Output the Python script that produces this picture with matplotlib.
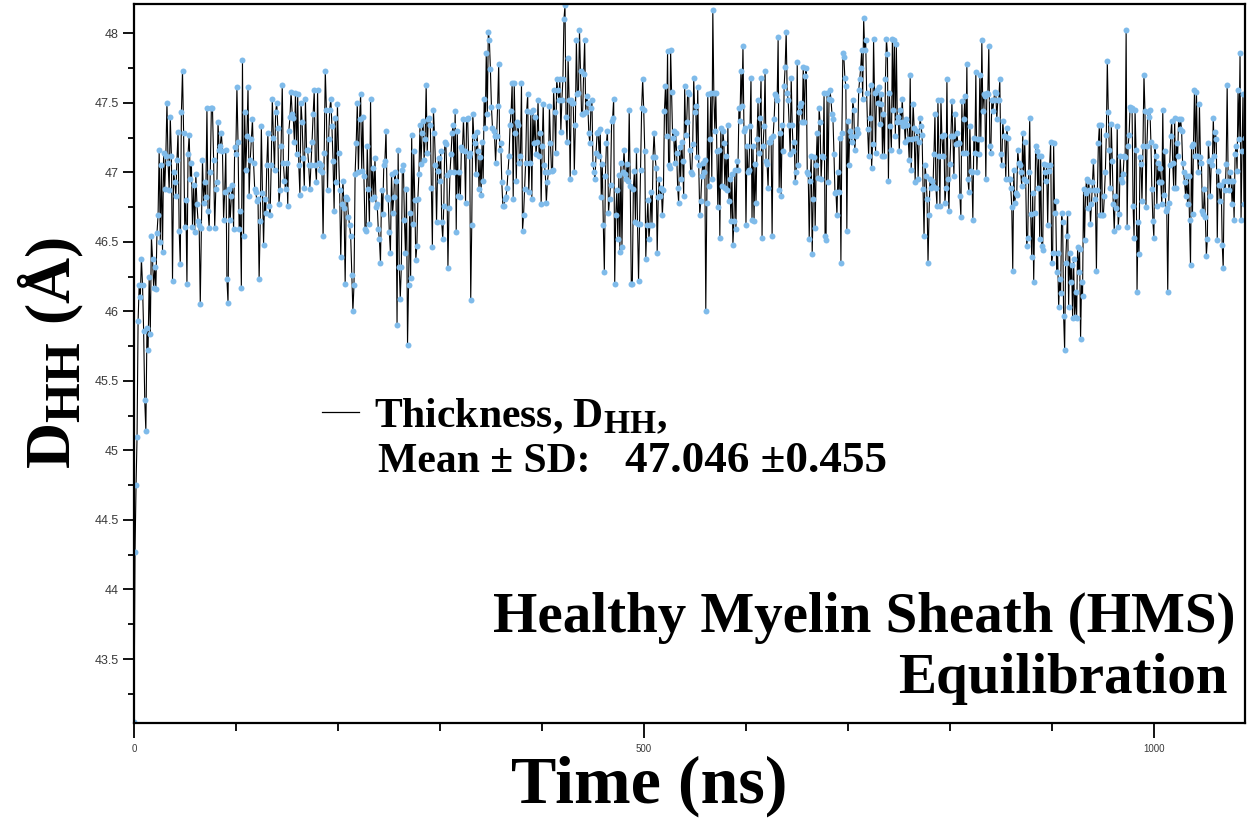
import numpy as np
import matplotlib.pyplot as plt
import matplotlib._mathtext as mathtext_internals
from matplotlib.lines import Line2D
from matplotlib.ticker import MultipleLocator, FuncFormatter

plt.rcParams['mathtext.fontset'] = 'custom'
plt.rcParams['mathtext.rm'] = 'Liberation Serif:bold'
plt.rcParams['mathtext.bf'] = 'Liberation Serif:bold'
# the subscripts in the original are a bit larger than mathtext's default
mathtext_internals.SHRINK_FACTOR = 0.8

# membrane thickness D_HH (Angstrom) read off the trajectory, block by block
# each block: first ns, last ns, values in between (about 1 ns apart)
d_0_3 = [43.05, 44.27, 44.75, 45.10]

d_4_127 = [45.93, 46.19, 46.10, 46.38, 46.19, 45.86, 45.36, 45.14, 45.88, 45.72, 46.25, 45.84, 46.54, 46.38,
           46.17, 46.32, 46.16, 46.56, 46.69, 47.16, 46.50, 47.05, 46.43, 47.14, 46.88, 47.12, 47.50, 47.07,
           46.87, 47.40, 47.12, 46.22, 47.00, 46.93, 46.83, 47.09, 47.29, 46.58, 46.34, 47.43, 47.73, 47.28,
           46.61, 46.80, 46.20, 47.13, 47.27, 46.95, 47.07, 46.61, 46.91, 46.57, 46.99, 46.77, 46.65, 46.62,
           46.05, 46.60, 47.09, 46.78, 46.93, 46.82, 47.46, 46.72, 46.60, 47.00, 47.46, 47.46, 47.09, 46.60,
           46.88, 46.93, 47.36, 47.16, 47.19, 47.28, 47.15, 46.66, 46.86, 47.16, 46.23, 46.06, 46.88, 46.66,
           46.83, 46.91, 46.59, 47.18, 47.13, 47.61, 47.22, 46.59, 46.72, 46.17, 47.81, 46.54, 47.43, 47.02,
           47.26, 47.61, 46.83, 47.09, 47.24, 47.38, 47.07, 46.88, 46.86, 46.79, 46.81, 46.23, 46.65, 47.33,
           46.85, 46.48]

d_128_260 = [46.81, 46.71, 47.05, 47.28, 46.76, 46.69, 47.05, 47.53, 47.25, 47.02, 47.43, 47.50, 47.32, 46.77,
             46.87, 47.19, 47.63, 47.07, 46.94, 46.88, 47.07, 46.76, 47.30, 47.40, 47.58, 47.42, 47.39, 47.22,
             47.57, 47.13, 47.56, 47.05, 46.84, 47.50, 47.36, 47.10, 46.89, 47.53, 47.16, 47.16, 47.05, 46.88,
             47.05, 47.22, 47.42, 47.59, 47.05, 46.93, 47.59, 47.07, 47.02, 47.05, 47.00, 46.54, 47.14, 47.73,
             47.45, 46.87, 47.24, 47.45, 47.53, 47.33, 47.08, 46.72, 47.39, 46.93, 47.49, 47.14, 46.87, 46.39,
             46.77, 46.94, 46.74, 46.20, 46.82, 46.81, 46.68, 46.62, 46.54, 46.26, 46.00, 46.19, 46.99, 47.21,
             47.50, 47.00, 47.38, 47.56, 47.01, 47.40, 46.97, 46.59, 46.58, 47.19, 46.88, 46.63, 47.53, 46.81,
             47.03, 46.82, 47.10, 46.75, 46.77, 46.59, 46.52, 46.35, 46.87, 46.70, 47.05, 47.08, 47.30, 46.82,
             46.81, 46.57, 46.42, 46.99, 46.71, 46.82, 47.00, 46.94, 45.90, 47.16, 46.32]

d_261_392 = [46.09, 46.32, 47.02, 47.05, 46.66, 46.42, 46.88, 45.76, 46.19, 46.71, 46.24, 47.27, 46.63, 47.15,
             46.80, 46.37, 46.47, 46.81, 46.99, 47.34, 47.06, 47.28, 47.37, 47.09, 47.24, 47.63, 47.14, 47.38,
             47.39, 47.34, 46.89, 46.46, 47.45, 47.28, 47.05, 46.64, 47.01, 47.10, 46.94, 47.15, 46.64, 46.52,
             46.76, 47.22, 47.20, 46.98, 46.31, 46.74, 47.00, 47.13, 47.28, 47.34, 47.00, 47.44, 46.57, 47.30,
             46.83, 47.00, 46.82, 47.18, 47.16, 47.38, 47.15, 46.78, 47.38, 47.39, 47.12, 47.14, 46.08, 46.62,
             47.42, 47.26, 47.21, 46.99, 47.29, 47.15, 46.88, 47.11, 46.84, 47.22, 46.94, 47.53, 47.32, 47.86,
             47.42, 48.01, 47.95, 47.74, 47.47, 47.32, 47.30, 47.26, 47.07, 47.26, 47.48, 47.78, 47.16, 47.21,
             46.93, 46.76, 46.76, 46.81, 46.82, 46.89, 47.00, 47.12, 47.34, 47.44, 47.64, 46.81, 47.64, 47.28,
             46.94, 47.36, 47.34, 47.07, 47.12, 47.64, 46.58, 46.69, 46.88, 47.07, 47.44, 47.56, 46.86, 47.07,
             47.43, 46.81, 47.45, 47.21]

d_393_524 = [47.40, 47.13, 47.22, 47.52, 47.12, 47.28, 46.77, 47.19, 47.49, 47.05, 47.00, 46.78, 46.93, 47.00,
             47.48, 47.21, 47.01, 47.02, 47.59, 47.43, 47.14, 47.67, 47.59, 47.52, 47.67, 47.29, 47.52, 47.67,
             48.10, 48.20, 47.40, 47.22, 47.82, 47.52, 46.95, 47.52, 47.50, 47.50, 47.00, 47.34, 47.95, 47.56,
             47.57, 48.02, 47.73, 47.42, 47.42, 47.71, 47.95, 47.43, 47.55, 47.50, 47.28, 47.21, 47.46, 47.52,
             47.06, 47.00, 46.95, 47.14, 47.28, 47.29, 47.12, 47.31, 46.82, 47.06, 46.62, 46.28, 46.97, 47.21,
             47.30, 46.71, 46.81, 46.91, 47.37, 47.39, 47.53, 46.20, 46.69, 46.87, 46.52, 46.98, 46.43, 47.07,
             46.46, 47.00, 47.16, 46.99, 46.95, 47.06, 46.94, 47.45, 46.90, 46.20, 46.20, 46.88, 47.01, 46.64,
             47.16, 46.63, 46.22, 46.63, 47.02, 47.46, 47.67, 47.45, 47.15, 46.38, 46.62, 46.80, 46.52, 46.62,
             46.86, 46.62, 47.11, 47.28, 47.11, 47.03, 46.42, 46.82, 46.95, 46.83, 46.89, 46.69, 46.87, 47.44,
             47.62, 47.26, 47.87, 47.05]

d_525_656 = [47.03, 47.88, 47.58, 47.25, 47.30, 47.07, 47.28, 47.14, 46.89, 46.78, 47.18, 46.95, 47.22, 47.08,
             46.83, 47.62, 47.27, 47.36, 47.58, 47.56, 47.16, 47.00, 46.99, 47.20, 47.68, 47.43, 47.48, 47.11,
             47.61, 47.05, 46.69, 46.79, 46.97, 47.07, 47.00, 47.09, 46.00, 46.78, 47.56, 46.90, 47.24, 47.57,
             46.95, 48.17, 47.57, 47.30, 47.57, 47.15, 46.75, 47.16, 46.53, 47.32, 46.90, 47.30, 47.21, 46.89,
             47.12, 46.87, 47.34, 46.79, 46.95, 46.65, 46.99, 46.48, 46.65, 47.02, 46.59, 47.08, 47.02, 47.46,
             47.37, 47.73, 47.48, 47.91, 47.30, 47.32, 46.62, 47.19, 47.00, 47.02, 47.33, 47.68, 46.66, 47.19,
             46.65, 47.06, 46.78, 47.24, 47.52, 47.14, 47.39, 47.68, 46.53, 47.19, 47.33, 47.73, 47.08, 47.06,
             46.89, 47.22, 47.22, 47.25, 46.54, 47.26, 47.38, 47.56, 47.55, 47.52, 47.97, 46.87, 47.28, 46.83,
             47.34, 47.15, 47.62, 47.76, 48.01, 47.57, 47.52, 47.34, 47.13, 47.68, 47.34, 47.15, 47.22, 46.93,
             47.00, 47.79, 47.05, 47.43, 47.48, 47.50, 47.36, 47.76]

d_657_788 = [47.36, 47.69, 47.75, 47.00, 46.99, 46.52, 46.94, 47.12, 46.41, 46.81, 47.11, 46.60, 47.05, 47.28,
             46.96, 47.46, 47.36, 46.95, 47.12, 47.11, 47.57, 46.54, 46.51, 47.57, 46.93, 47.53, 47.59, 47.52,
             47.42, 47.38, 47.13, 46.85, 46.86, 46.69, 47.00, 46.86, 47.25, 46.35, 47.28, 47.86, 47.83, 47.68,
             47.62, 46.58, 47.37, 47.05, 47.30, 47.26, 47.22, 47.52, 47.45, 47.16, 47.26, 47.31, 47.28, 47.59,
             47.67, 47.75, 47.88, 47.53, 48.11, 47.88, 47.95, 47.57, 47.31, 47.12, 47.39, 47.63, 47.03, 47.20,
             47.96, 47.57, 47.14, 47.59, 47.50, 47.61, 47.35, 47.49, 47.56, 47.12, 47.42, 47.12, 47.67, 47.96,
             47.85, 46.94, 47.57, 47.33, 47.16, 47.96, 47.45, 47.95, 47.26, 47.92, 47.36, 47.40, 47.15, 47.45,
             47.36, 47.53, 47.33, 47.36, 47.22, 47.38, 47.34, 47.24, 47.09, 47.70, 47.02, 47.24, 47.49, 47.32,
             46.93, 47.25, 47.30, 46.95, 47.22, 47.39, 47.33, 47.27, 46.88, 46.54, 47.05, 46.97, 46.81, 46.35,
             46.69, 46.95, 46.89, 46.94, 46.90, 47.13, 47.42, 46.89, 46.76, 47.52]

d_789_921 = [47.12, 46.76, 47.52, 47.26, 47.12, 47.27, 46.78, 46.89, 47.67, 46.95, 46.72, 47.06, 47.26, 47.51,
             47.26, 46.97, 47.42, 47.20, 47.28, 47.21, 47.21, 46.83, 46.68, 47.51, 47.14, 47.38, 47.55, 47.14,
             47.78, 46.95, 46.86, 47.33, 47.01, 47.00, 46.66, 47.25, 47.14, 47.72, 47.00, 47.24, 47.13, 47.70,
             47.24, 47.95, 47.44, 47.56, 47.55, 46.95, 47.57, 47.56, 47.91, 47.19, 47.14, 47.52, 47.44, 47.52,
             47.58, 47.57, 47.38, 47.52, 47.52, 47.67, 47.13, 47.05, 47.37, 47.26, 47.26, 46.95, 47.32, 47.25,
             46.95, 46.95, 46.89, 46.75, 46.29, 47.02, 46.78, 46.85, 46.84, 47.16, 47.07, 47.05, 47.00, 46.90,
             47.28, 46.95, 47.22, 46.94, 46.47, 46.53, 47.00, 47.39, 46.70, 46.39, 46.85, 46.21, 46.71, 47.19,
             47.15, 46.89, 47.12, 46.52, 47.12, 46.47, 46.44, 47.06, 47.00, 46.94, 47.05, 46.62, 47.01, 47.05,
             47.22, 46.35, 46.42, 47.21, 46.71, 46.79, 46.28, 46.42, 46.03, 46.23, 46.13, 46.71, 46.64, 45.97,
             45.72, 46.35, 46.54, 46.71, 46.03, 46.42, 46.21, 46.33, 45.95, 46.38]

d_922_1089 = [45.96, 46.14, 45.95, 46.46, 46.28, 46.45, 45.80, 46.21, 46.11, 46.88, 46.51, 46.85, 46.95, 46.74,
              46.94, 46.87, 46.63, 46.77, 46.93, 47.08, 46.87, 46.81, 46.29, 46.87, 47.21, 47.34, 46.69, 47.34,
              46.69, 46.69, 46.83, 47.00, 47.27, 47.80, 47.43, 47.16, 46.89, 47.35, 47.08, 46.77, 46.58, 46.83,
              46.74, 47.33, 46.61, 46.70, 47.12, 46.95, 46.93, 46.99, 47.12, 47.11, 48.02, 46.61, 47.19, 47.27,
              47.47, 47.45, 47.46, 46.76, 46.53, 47.45, 47.16, 46.14, 46.64, 46.41, 47.11, 47.06, 46.79, 47.19,
              47.70, 47.44, 46.75, 47.19, 47.43, 47.40, 47.45, 47.22, 46.88, 46.65, 46.53, 47.19, 47.12, 46.76,
              47.07, 46.93, 47.03, 46.93, 46.77, 47.45, 46.84, 47.15, 46.72, 46.74, 46.14, 46.78, 47.05, 47.26,
              47.37, 47.07, 46.89, 47.39, 46.89, 47.21, 47.12, 47.38, 47.31, 47.38, 47.30, 47.07, 47.00, 46.93,
              46.83, 46.97, 46.77, 46.97, 46.66, 46.33, 47.19, 46.70, 47.20, 47.59, 47.12, 47.58, 47.12, 47.00,
              47.49, 47.11, 47.07, 46.72, 46.70, 46.88, 46.68, 46.40, 46.52, 47.21, 47.08, 46.83, 47.09, 47.05,
              47.39, 47.12, 47.29, 47.24, 46.51, 47.01, 46.91, 46.79, 46.91, 46.48, 46.31, 46.94, 46.87, 47.06,
              47.63, 46.94, 46.87, 47.00, 46.94, 46.77, 46.94, 46.66, 47.13, 47.19, 47.01, 47.59, 47.24, 47.86,
              46.66, 47.15, 47.56, 46.77, 47.25]

blocks = [(0, 3, d_0_3), (4, 127, d_4_127), (128, 260, d_128_260), (261, 392, d_261_392),
          (393, 524, d_393_524), (525, 656, d_525_656), (657, 788, d_657_788),
          (789, 921, d_789_921), (922, 1089, d_922_1089)]

time_ns = np.concatenate([np.linspace(a, b, len(v)) for a, b, v in blocks])
dhh = np.concatenate([v for a, b, v in blocks])

mean_sd_label = 'Mean \u00b1 SD:'
mean_sd_value = '47.046 \u00b10.455'

fig = plt.figure(figsize=(12.5, 8.21), dpi=100)
ax = fig.add_axes([0.1072, 0.1194, 0.8888, 0.8757])

ax.plot(time_ns, dhh, color='black', lw=0.8, marker='o', ms=4.3,
        mfc='#7fbbea', mec='#7fbbea', mew=0)

ax.set_xlim(0, 1089)
ax.set_ylim(43.04, 48.21)

ax.xaxis.set_major_locator(MultipleLocator(500))
ax.xaxis.set_minor_locator(MultipleLocator(100))
ax.yaxis.set_major_locator(MultipleLocator(0.5))
ax.yaxis.set_minor_locator(MultipleLocator(0.25))
ax.yaxis.set_major_formatter(FuncFormatter(lambda v, p: '%g' % v))

ax.tick_params(axis='y', which='major', direction='out', length=8, width=1.3,
               labelsize=9, labelcolor='#3a3a3a', pad=3)
ax.tick_params(axis='y', which='minor', direction='out', length=4.5, width=1.3)
ax.tick_params(axis='x', which='major', direction='out', length=11, width=1.3,
               labelsize=7, labelcolor='#3a3a3a', pad=4)
ax.tick_params(axis='x', which='minor', direction='out', length=6, width=1.3)
for lab in ax.get_xticklabels() + ax.get_yticklabels():
    lab.set_family('Liberation Sans')

for side in ['left', 'bottom', 'top', 'right']:
    ax.spines[side].set_linewidth(1.6)
    ax.spines[side].set_color('black')

ax.set_xlabel('Time (ns)', family='Liberation Serif', weight='bold', fontsize=49)
ax.xaxis.set_label_coords(0.464, -0.045)
ax.set_ylabel(r'$\mathbf{D}_{\mathbf{HH}}$ (Å)', family='Liberation Serif', weight='bold', fontsize=46)
ax.yaxis.set_label_coords(-0.043, 0.515)

handle = Line2D([], [], color='black', lw=0.9)
ax.legend([handle], [r'Thickness, $\mathbf{D}_{\mathbf{HH}}$,'], loc='center left',
          bbox_to_anchor=(0.169, 0.427), frameon=False, borderpad=0, borderaxespad=0,
          handlelength=0.9, handletextpad=0.35,
          prop={'family': 'Liberation Serif', 'weight': 'bold', 'size': 30})
ax.text(0.2196, 0.349, mean_sd_label, transform=ax.transAxes, ha='left', va='baseline',
        family='Liberation Serif', weight='bold', fontsize=30)
ax.text(0.4419, 0.349, mean_sd_value, transform=ax.transAxes, ha='left', va='baseline',
        family='Liberation Serif', weight='bold', fontsize=32.5)

ax.text(0.991, 0.1266, 'Healthy Myelin Sheath (HMS)', transform=ax.transAxes, ha='right',
        va='baseline', family='Liberation Serif', weight='bold', fontsize=41)
ax.text(0.9847, 0.0417, 'Equilibration', transform=ax.transAxes, ha='right',
        va='baseline', family='Liberation Serif', weight='bold', fontsize=41)

fig.savefig('out.png', dpi=100)
